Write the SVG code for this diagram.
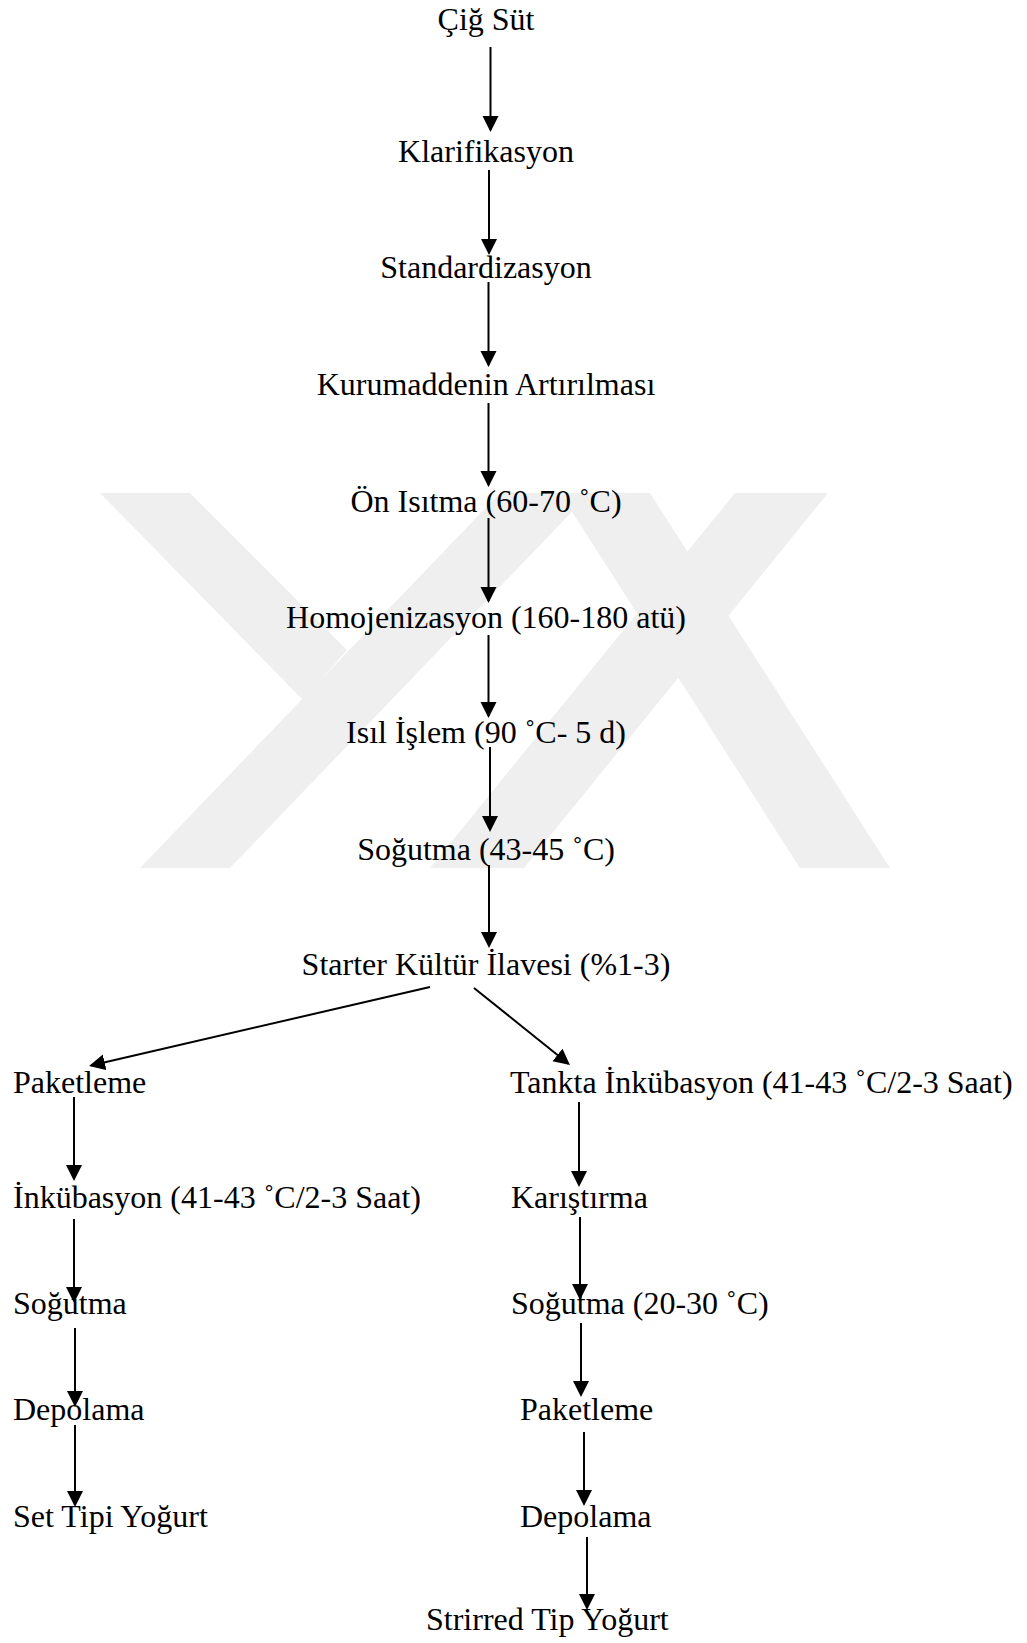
<svg xmlns="http://www.w3.org/2000/svg" width="1027" height="1643" viewBox="0 0 1027 1643">
<defs>
<style>
text{font-family:"Liberation Serif","Times New Roman",serif;font-size:32px;fill:#000}
.m{text-anchor:middle}
.c line{stroke:#000;stroke-width:2;marker-end:url(#ah)}
.wm{fill:#efefef}
</style>
<marker id="ah" markerUnits="userSpaceOnUse" markerWidth="17" markerHeight="17" refX="14" refY="8" orient="auto">
<path d="M0,0 L16,8 L0,16 z" fill="#000"/>
</marker>
</defs>
<rect width="1027" height="1643" fill="#fff"/>
<g id="watermark">
<polygon class="wm" points="100,493 190,493 347,650 303,700"/>
<polygon class="wm" points="500,493 590,493 230,868 140,868"/>
<polygon class="wm" points="735,493 828,493 524,868 430,868"/>
<polygon class="wm" points="560,493 650,493 890,868 800,868"/>
</g>
<g id="n1"><text class="m" x="486" y="30">Çiğ Süt</text></g>
<g id="n2"><text class="m" x="486" y="162">Klarifikasyon</text></g>
<g id="n3"><text class="m" x="486" y="278">Standardizasyon</text></g>
<g id="n4"><text class="m" x="486" y="395">Kurumaddenin Artırılması</text></g>
<g id="n5"><text class="m" x="486" y="512">Ön Isıtma (60-70 ˚C)</text></g>
<g id="n6"><text class="m" x="486" y="628">Homojenizasyon (160-180 atü)</text></g>
<g id="n7"><text class="m" x="486" y="743">Isıl İşlem (90 ˚C- 5 d)</text></g>
<g id="n8"><text class="m" x="486" y="860">Soğutma (43-45 ˚C)</text></g>
<g id="n9"><text class="m" x="486" y="975">Starter Kültür İlavesi (%1-3)</text></g>
<g id="l1"><text x="13" y="1093">Paketleme</text></g>
<g id="l2"><text x="13" y="1208">İnkübasyon (41-43 ˚C/2-3 Saat)</text></g>
<g id="l3"><text x="13" y="1314">Soğutma</text></g>
<g id="l4"><text x="13" y="1420">Depolama</text></g>
<g id="l5"><text x="13" y="1527">Set Tipi Yoğurt</text></g>
<g id="r1"><text x="510" y="1093">Tankta İnkübasyon (41-43 ˚C/2-3 Saat)</text></g>
<g id="r2"><text x="511" y="1208">Karıştırma</text></g>
<g id="r3"><text x="511" y="1314">Soğutma (20-30 ˚C)</text></g>
<g id="r4"><text x="520" y="1420">Paketleme</text></g>
<g id="r5"><text x="520" y="1527">Depolama</text></g>
<g id="r6"><text x="426" y="1630">Strirred Tip Yoğurt</text></g>
<g id="connectors" class="c">
<line x1="490.5" y1="47" x2="490.5" y2="130"/>
<line x1="489" y1="170" x2="489" y2="253"/>
<line x1="488.5" y1="282" x2="488.5" y2="365"/>
<line x1="488.5" y1="403" x2="488.5" y2="485"/>
<line x1="488.5" y1="518" x2="488.5" y2="601"/>
<line x1="488.5" y1="635" x2="488.5" y2="716"/>
<line x1="490" y1="747" x2="490" y2="830"/>
<line x1="489" y1="865" x2="489" y2="946"/>
<line x1="430" y1="987" x2="91" y2="1065.5"/>
<line x1="474" y1="988" x2="568.4" y2="1063.7"/>
<line x1="74" y1="1097" x2="74" y2="1179"/>
<line x1="74" y1="1219" x2="74" y2="1301"/>
<line x1="75" y1="1328" x2="75" y2="1405"/>
<line x1="75" y1="1425" x2="75" y2="1505"/>
<line x1="579" y1="1102" x2="579" y2="1185"/>
<line x1="580" y1="1217" x2="580" y2="1298"/>
<line x1="581" y1="1323" x2="581" y2="1395"/>
<line x1="584" y1="1432" x2="584" y2="1504"/>
<line x1="587" y1="1537" x2="587" y2="1608"/>
</g>
</svg>
